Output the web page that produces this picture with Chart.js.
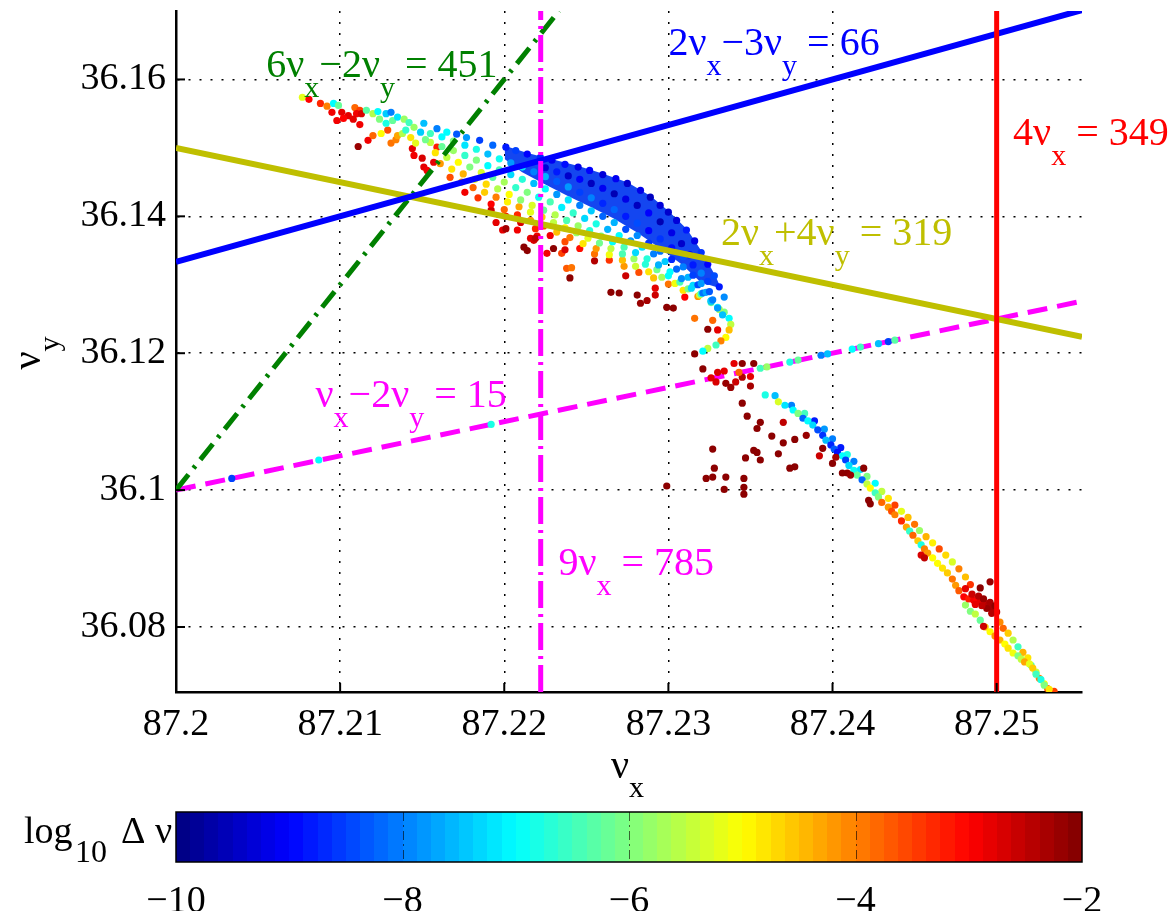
<!DOCTYPE html>
<html lang="en">
<head>
<meta charset="UTF-8">
<title>Frequency map</title>
<script src="https://cdn.jsdelivr.net/npm/chart.js@4"></script>
<style>
  html, body { margin: 0; padding: 0; background: #fff; }
  #wrap { position: relative; width: 1173px; height: 911px; }
  #mainChart { position: absolute; left: 0; top: 0; }
  #barChart { position: absolute; left: 0; top: 800px; }
</style>
</head>
<body>
<div id="wrap">
  <canvas id="mainChart" width="1173" height="911"></canvas>
  <canvas id="barChart" width="1173" height="111"></canvas>
</div>
<script>
// axis ticks
const xTicks = [87.2, 87.21, 87.22, 87.23, 87.24, 87.25];
const xTickLabels = ['87.2', '87.21', '87.22', '87.23', '87.24', '87.25'];
const yTicks = [36.08, 36.1, 36.12, 36.14, 36.16];
const yTickLabels = ['36.08', '36.1', '36.12', '36.14', '36.16'];
const cbTicks = [-10, -8, -6, -4, -2];
const cbTickLabels = ['\u221210', '\u22128', '\u22126', '\u22124', '\u22122'];

// resonance lines (end points)
const res2m3X = [87.2, 87.2552], res2m3Y = [36.13333, 36.17013];   // 2vx-3vy=66
const res2p4X = [87.2, 87.2552], res2p4Y = [36.15, 36.1224];       // 2vx+4vy=319
const res1m2X = [87.2, 87.2552], res1m2Y = [36.1, 36.1276];        // vx-2vy=15
const res6m2X = [87.2, 87.22333], res6m2Y = [36.1, 36.17];         // 6vx-2vy=451
const res9X = [87.22222, 87.22222], res9Y = [36.0705, 36.17];      // 9vx=785
const res4X = [87.25, 87.25], res4Y = [36.0705, 36.17];            // 4vx=349

// [nux, nuy, log10 dnu]
const fanTail = [
  [87.2077,36.1574,-5.2],[87.2081,36.1571,-3.0],[87.2088,36.1565,-3.3],[87.2092,36.1561,-4.0],
  [87.2096,36.1565,-7.0],[87.2099,36.1562,-6.2],[87.2095,36.1552,-2.9],[87.2101,36.1552,-2.8],
  [87.2109,36.1559,-3.8],[87.2112,36.1555,-3.5],[87.2105,36.1547,-2.8],[87.2110,36.1550,-2.9],
  [87.2113,36.1550,-2.7],[87.2098,36.1540,-2.9],[87.2102,36.1543,-3.0],[87.2108,36.1542,-2.8],
  [87.2112,36.1534,-2.9],[87.2111,36.1502,-2.2],[87.2117,36.1511,-2.9],[87.2120,36.1518,-3.8],
  [87.2125,36.1521,-5.0],[87.2129,36.1526,-3.6],[87.2131,36.1507,-3.9],[87.2134,36.1512,-4.0],
  [87.2135,36.1518,-4.3],[87.2138,36.1521,-5.6],[87.2116,36.1555,-6.3],[87.2120,36.1550,-5.6],
  [87.2123,36.1553,-7.0],[87.2128,36.1550,-7.4],[87.2131,36.1552,-8.0],[87.2124,36.1542,-6.0],
  [87.2128,36.1536,-6.8],[87.2132,36.1540,-6.2],[87.2135,36.1545,-7.2],[87.2139,36.1542,-5.8],
  [87.2142,36.1537,-6.5],[87.2145,36.1530,-5.8],[87.2140,36.1526,-6.6],[87.2143,36.1515,-4.8],
  [87.2146,36.1507,-5.2],[87.2149,36.1523,-7.4],[87.2152,36.1512,-6.1]
];
const fanEdge = [
  [87.2151,36.1536,-7.5],[87.2159,36.1528,-8.0],[87.2165,36.1523,-7.0],[87.2171,36.1520,-8.3],
  [87.2177,36.1515,-7.8],[87.2185,36.1511,-8.5],[87.2193,36.1504,-8.2],[87.2201,36.1501,-8.8],
  [87.2207,36.1496,-8.5],[87.2214,36.1491,-9.0],[87.2222,36.1486,-8.7],[87.2229,36.1482,-9.1],
  [87.2237,36.1476,-8.9],[87.2245,36.1472,-9.2],[87.2252,36.1467,-9.0],[87.2260,36.1461,-9.3],
  [87.2268,36.1455,-9.1],[87.2275,36.1448,-9.4],[87.2283,36.1438,-9.2],[87.2289,36.1428,-9.5],
  [87.2295,36.1416,-9.3],[87.2300,36.1406,-9.4]
];
const fanInner = [
  [87.2225,36.1471,-9.3],[87.2232,36.1465,-8.8],[87.2239,36.1459,-9.4],[87.2246,36.1454,-9.0],
  [87.2253,36.1448,-9.5],[87.2260,36.1441,-9.1],[87.2267,36.1433,-9.6],[87.2274,36.1425,-9.2],
  [87.2281,36.1416,-9.5],[87.2288,36.1405,-9.0],[87.2295,36.1392,-9.6],[87.2302,36.1376,-9.2],
  [87.2308,36.1360,-9.4],[87.2313,36.1344,-9.0],
  [87.2305,36.1394,-9.3],[87.2311,36.1380,-8.8],[87.2316,36.1364,-9.2],[87.2320,36.1347,-8.6],
  [87.2324,36.1330,-9.0],[87.2328,36.1313,-8.4],[87.2331,36.1297,-8.8],[87.2334,36.1282,-7.9]
];
const rowA = [
  [87.2155,36.1521,-6.5],[87.2162,36.1516,-7.0],[87.2169,36.1510,-6.0],[87.2176,36.1504,-7.2],
  [87.2183,36.1498,-6.8],[87.2190,36.1491,-7.5],[87.2197,36.1484,-6.9],[87.2204,36.1478,-7.8],
  [87.2211,36.1472,-7.2],[87.2218,36.1465,-8.0],[87.2225,36.1458,-7.6],[87.2232,36.1451,-8.3],
  [87.2239,36.1443,-7.8],[87.2246,36.1435,-8.5],[87.2253,36.1427,-8.0],[87.2260,36.1419,-8.7],
  [87.2267,36.1410,-8.2],[87.2274,36.1400,-8.8],[87.2281,36.1390,-8.4],[87.2288,36.1379,-9.0],
  [87.2295,36.1367,-8.6],[87.2302,36.1354,-8.9],[87.2309,36.1341,-8.3],[87.2315,36.1329,-8.8],
  [87.2320,36.1317,-8.0],[87.2324,36.1305,-8.5]
];
const rowB = [
  [87.2155,36.1508,-5.5],[87.2162,36.1502,-6.2],[87.2169,36.1496,-5.8],[87.2176,36.1489,-6.6],
  [87.2183,36.1482,-6.0],[87.2190,36.1474,-7.0],[87.2197,36.1468,-6.4],[87.2204,36.1461,-7.3],
  [87.2211,36.1454,-6.7],[87.2218,36.1448,-7.5],[87.2225,36.1440,-7.0],[87.2232,36.1432,-7.8],
  [87.2239,36.1424,-7.2],[87.2246,36.1416,-8.0],[87.2253,36.1408,-7.4],[87.2260,36.1400,-8.2],
  [87.2267,36.1391,-7.6],[87.2274,36.1381,-8.4],[87.2281,36.1372,-7.9],[87.2288,36.1361,-8.6],
  [87.2295,36.1349,-8.1],[87.2302,36.1337,-8.7],[87.2309,36.1326,-8.0],[87.2315,36.1314,-8.5],
  [87.2320,36.1302,-7.8],[87.2325,36.1290,-8.3]
];
const rowC = [
  [87.2158,36.1493,-4.8],[87.2165,36.1486,-5.5],[87.2172,36.1479,-5.0],[87.2179,36.1472,-6.0],
  [87.2186,36.1464,-5.3],[87.2193,36.1457,-6.3],[87.2200,36.1450,-5.7],[87.2207,36.1442,-6.6],
  [87.2214,36.1435,-6.0],[87.2221,36.1428,-6.9],[87.2228,36.1421,-6.4],[87.2235,36.1413,-7.1],
  [87.2242,36.1405,-6.6],[87.2249,36.1397,-7.3],[87.2256,36.1389,-6.8],[87.2263,36.1381,-7.6],
  [87.2270,36.1372,-7.0],[87.2277,36.1364,-7.8],[87.2284,36.1355,-7.2],[87.2291,36.1345,-8.0],
  [87.2298,36.1334,-7.4],[87.2305,36.1323,-8.2],[87.2312,36.1311,-7.6],[87.2318,36.1300,-8.4],
  [87.2323,36.1289,-7.7],[87.2327,36.1278,-8.0]
];
const rowD = [
  [87.2161,36.1477,-4.2],[87.2168,36.1469,-4.8],[87.2175,36.1462,-4.4],[87.2182,36.1454,-5.2],
  [87.2189,36.1447,-4.7],[87.2196,36.1440,-5.6],[87.2203,36.1432,-5.0],[87.2210,36.1424,-5.9],
  [87.2217,36.1416,-5.3],[87.2224,36.1409,-6.2],[87.2231,36.1402,-5.6],[87.2238,36.1394,-6.4],
  [87.2245,36.1386,-5.8],[87.2252,36.1379,-6.7],[87.2259,36.1371,-6.1],[87.2266,36.1363,-7.0],
  [87.2273,36.1355,-6.4],[87.2280,36.1347,-7.3],[87.2287,36.1338,-6.7],[87.2294,36.1329,-7.6],
  [87.2301,36.1319,-7.0],[87.2308,36.1309,-7.9],[87.2315,36.1299,-7.3],[87.2321,36.1288,-8.1],
  [87.2326,36.1277,-7.4],[87.2330,36.1266,-7.8]
];
const rowE = [
  [87.2167,36.1457,-3.6],[87.2174,36.1450,-4.2],[87.2181,36.1442,-3.8],[87.2188,36.1435,-4.6],
  [87.2195,36.1428,-4.0],[87.2202,36.1421,-4.9],[87.2209,36.1414,-4.3],[87.2216,36.1406,-5.2],
  [87.2223,36.1399,-4.6],[87.2230,36.1391,-5.5],[87.2237,36.1383,-4.9],[87.2244,36.1376,-5.8],
  [87.2251,36.1368,-5.2],[87.2258,36.1361,-6.1],[87.2265,36.1353,-5.5],[87.2272,36.1345,-6.4],
  [87.2279,36.1338,-5.8],[87.2286,36.1330,-6.7],[87.2293,36.1322,-6.1],[87.2300,36.1313,-7.0],
  [87.2307,36.1304,-6.4],[87.2314,36.1295,-7.3],[87.2320,36.1287,-6.7],[87.2326,36.1276,-7.6],
  [87.2330,36.1267,-7.0],[87.2333,36.1256,-7.5]
];
const rowF = [
  [87.2176,36.1435,-2.9],[87.2184,36.1427,-3.4],[87.2192,36.1418,-3.0],[87.2200,36.1410,-3.8],
  [87.2208,36.1402,-3.3],[87.2216,36.1394,-4.2],[87.2224,36.1386,-3.6],[87.2232,36.1377,-4.5],
  [87.2240,36.1369,-3.9],[87.2248,36.1360,-4.8],[87.2256,36.1353,-4.2],[87.2264,36.1344,-5.1],
  [87.2272,36.1336,-4.5],[87.2280,36.1327,-5.4],[87.2288,36.1319,-4.8],[87.2296,36.1311,-5.7],
  [87.2304,36.1302,-5.1],[87.2312,36.1294,-6.0],[87.2319,36.1285,-5.4],[87.2326,36.1274,-6.3],
  [87.2331,36.1264,-5.7]
];
const rowG = [
  [87.2192,36.1409,-2.6],[87.2201,36.1400,-3.0],[87.2210,36.1391,-2.7],[87.2219,36.1382,-3.3],
  [87.2228,36.1372,-2.9],[87.2237,36.1363,-3.6],[87.2246,36.1353,-3.1],[87.2255,36.1345,-3.9],
  [87.2264,36.1336,-3.4],[87.2273,36.1327,-4.2],[87.2282,36.1318,-3.6],[87.2291,36.1310,-4.5],
  [87.2300,36.1301,-3.9],[87.2309,36.1292,-4.8],[87.2318,36.1283,-4.2]
];
const rowH = [
  [87.2201,36.1382,-2.3],[87.2219,36.1368,-2.5],[87.2237,36.1351,-2.7],[87.2255,36.1335,-2.4],
  [87.2274,36.1313,-2.6],[87.2292,36.1295,-2.8],[87.2310,36.1282,-3.0]
];
const fanChaos = [
  [87.2144,36.1499,-2.8],[87.2145,36.1489,-2.9],[87.2150,36.1485,-2.7],[87.2151,36.1472,-2.8],
  [87.2153,36.1467,-2.9],[87.2157,36.1479,-2.8],[87.2159,36.1501,-3.2],
  [87.2195,36.1391,-2.8],[87.2199,36.1380,-2.8],[87.2208,36.1380,-2.9],[87.2212,36.1355,-2.1],
  [87.2214,36.1350,-2.1],[87.2216,36.1368,-2.8],[87.2218,36.1365,-2.7],[87.2220,36.1371,-2.9],
  [87.2226,36.1346,-2.9],[87.2230,36.1353,-2.1],[87.2240,36.1310,-2.1],[87.2235,36.1346,-3.5],
  [87.2238,36.1324,-3.7],[87.2241,36.1325,-3.9],
  [87.2265,36.1289,-2.1],[87.2270,36.1288,-2.1],[87.2281,36.1285,-2.1],[87.2283,36.1273,-2.2],
  [87.2287,36.1277,-2.3],[87.2292,36.1285,-2.6],[87.2299,36.1267,-2.1],[87.2303,36.1266,-2.1],
  [87.2324,36.1235,-2.1],[87.2327,36.1248,-3.8],[87.2330,36.1234,-2.8],[87.2316,36.1251,-3.9]
];
const hook = [
  [87.2334,36.1260,-6.0],[87.2337,36.1251,-7.0],[87.2338,36.1242,-5.5],[87.2337,36.1234,-4.5],
  [87.2335,36.1223,-5.0],[87.2332,36.1218,-4.0],[87.2329,36.1212,-6.5],[87.2324,36.1207,-5.5],
  [87.2321,36.1203,-7.0]
];
const trapped = [
  [87.2034,36.1017,-8.5],[87.2087,36.1044,-7.0],[87.2192,36.1096,-6.8],
  [87.2343,36.1172,-3.8],[87.2356,36.1178,-6.5],[87.2360,36.1180,-5.8],[87.2374,36.1187,-6.8],
  [87.2379,36.1190,-6.2],[87.2393,36.1197,-8.0],[87.2397,36.1199,-7.5],[87.2412,36.1206,-7.0],
  [87.2417,36.1209,-6.5],[87.2428,36.1214,-7.5],[87.2434,36.1217,-8.5],[87.2438,36.1219,-6.3]
];
const chaos = [
  [87.2316,36.1199,-2.1],[87.2321,36.1177,-2.1],[87.2330,36.1172,-2.7],[87.2334,36.1174,-2.8],
  [87.2340,36.1185,-2.8],[87.2345,36.1185,-2.1],[87.2352,36.1185,-2.1],[87.2326,36.1164,-2.8],
  [87.2329,36.1158,-2.7],[87.2335,36.1156,-2.2],[87.2338,36.1150,-2.2],[87.2341,36.1158,-2.6],
  [87.2345,36.1165,-2.4],[87.2350,36.1166,-2.8],[87.2350,36.1152,-2.3],[87.2345,36.1127,-2.1],
  [87.2348,36.1108,-2.1],[87.2356,36.1099,-2.1],[87.2354,36.1090,-2.1],[87.2327,36.1060,-2.1],
  [87.2352,36.1058,-2.1],[87.2354,36.1055,-2.1],[87.2356,36.1044,-2.1],[87.2347,36.1047,-2.1],
  [87.2367,36.1053,-2.1],[87.2363,36.1079,-2.1],[87.2328,36.1032,-2.1],[87.2323,36.1017,-2.1],
  [87.2327,36.1019,-2.1],[87.2335,36.1019,-2.1],[87.2334,36.1001,-2.1],[87.2346,36.1017,-2.1],
  [87.2346,36.1004,-2.1],[87.2346,36.0994,-2.1],[87.2299,36.1006,-2.1],
  [87.2370,36.1099,-2.5],[87.2370,36.1069,-2.1],[87.2377,36.1074,-2.1],[87.2384,36.1080,-2.2],
  [87.2374,36.1032,-2.1],[87.2377,36.1034,-2.1],[87.2392,36.1050,-2.6],[87.2394,36.1061,-2.1],
  [87.2400,36.1039,-2.1],[87.2406,36.1025,-2.1],[87.2409,36.1025,-2.1],[87.2411,36.1022,-2.2],
  [87.2419,36.1032,-2.1],[87.2422,36.0985,-2.1],[87.2423,36.0980,-2.1],[87.2402,36.1048,-2.3],
  [87.2454,36.0905,-2.7],[87.2456,36.0901,-2.5],[87.2481,36.0856,-2.8],[87.2490,36.0857,-2.1],
  [87.2496,36.0866,-2.2],[87.2492,36.0801,-2.6],
  [87.2485,36.0848,-2.6],[87.2489,36.0845,-2.4],[87.2492,36.0841,-2.2],[87.2496,36.0836,-2.3],
  [87.2499,36.0831,-2.1],[87.2494,36.0827,-2.2],[87.2491,36.0831,-2.5],[87.2497,36.0820,-2.4],
  [87.2487,36.0833,-2.8]
];
const tailMain = [
  [87.2359,36.1139,-6.8],[87.2367,36.1129,-5.3],[87.2371,36.1124,-7.2],[87.2376,36.1117,-7.0],
  [87.2379,36.1112,-6.0],[87.2382,36.1105,-8.2],[87.2385,36.1101,-7.0],[87.2388,36.1095,-7.3],
  [87.2391,36.1088,-8.4],[87.2394,36.1080,-8.6],[87.2396,36.1073,-7.5],[87.2399,36.1066,-8.7],
  [87.2401,36.1060,-8.3],[87.2403,36.1055,-8.9],[87.2406,36.1050,-7.0],[87.2408,36.1044,-8.5],
  [87.2410,36.1036,-7.3],[87.2413,36.1029,-6.9],[87.2415,36.1022,-6.2],[87.2418,36.1015,-8.2],
  [87.2421,36.1009,-5.5],[87.2423,36.1003,-5.0],[87.2426,36.0996,-6.5],[87.2428,36.0990,-6.0],
  [87.2430,36.0982,-3.8],[87.2434,36.0975,-4.2],[87.2436,36.0969,-3.6],[87.2438,36.0964,-4.0],
  [87.2442,36.0955,-3.3],[87.2445,36.0946,-4.3],[87.2447,36.0940,-6.6],[87.2449,36.0934,-3.8],
  [87.2452,36.0926,-4.6],[87.2454,36.0920,-6.8],[87.2456,36.0914,-4.0],[87.2458,36.0908,-4.2],
  [87.2461,36.0901,-5.0],[87.2464,36.0893,-5.0],[87.2467,36.0886,-4.8],[87.2470,36.0879,-4.6],
  [87.2473,36.0870,-3.9],[87.2475,36.0861,-4.2],[87.2477,36.0853,-3.7],[87.2480,36.0844,-3.0],
  [87.2483,36.0841,-3.2],[87.2486,36.0839,-2.9],[87.2488,36.0838,-3.0],[87.2490,36.0837,-2.8],
  [87.2493,36.0834,-2.6],[87.2495,36.0832,-2.4],[87.2496,36.0828,-2.3],[87.2498,36.0825,-2.3],
  [87.2500,36.0822,-2.5]
];
const tailSide = [
  [87.2365,36.1138,-7.5],[87.2375,36.1124,-8.0],[87.2383,36.1112,-6.5],[87.2389,36.1101,-8.8],
  [87.2395,36.1089,-7.8],[87.2400,36.1075,-8.0],[87.2405,36.1062,-8.8],[87.2409,36.1052,-6.8],
  [87.2413,36.1042,-8.0],[87.2417,36.1030,-7.2],[87.2421,36.1020,-6.0],[87.2426,36.1010,-7.0],
  [87.2430,36.0998,-5.5],[87.2434,36.0988,-4.8],[87.2438,36.0978,-3.5],[87.2442,36.0969,-5.2],
  [87.2446,36.0960,-4.5],[87.2450,36.0950,-3.9],[87.2453,36.0941,-5.8],[87.2457,36.0932,-4.4],
  [87.2461,36.0923,-4.9],[87.2465,36.0914,-3.6],[87.2469,36.0905,-4.7],[87.2473,36.0895,-5.3],
  [87.2477,36.0885,-4.0],[87.2481,36.0873,-4.5],[87.2484,36.0862,-3.4]
];
const tailLowA = [
  [87.2481,36.0832,-5.8],[87.2484,36.0823,-6.0],[87.2487,36.0819,-5.5],[87.2490,36.0810,-6.2],
  [87.2493,36.0800,-4.5],[87.2496,36.0793,-5.0],[87.2499,36.0787,-4.2],[87.2502,36.0781,-4.4],
  [87.2505,36.0775,-5.0],[87.2507,36.0769,-4.8],[87.2510,36.0762,-5.1],[87.2513,36.0758,-6.0],
  [87.2515,36.0753,-5.5],[87.2517,36.0749,-4.3],[87.2520,36.0746,-5.2],[87.2522,36.0740,-4.6],
  [87.2524,36.0731,-6.5],[87.2527,36.0723,-6.8],[87.2529,36.0715,-6.0],[87.2532,36.0709,-4.8]
];
const tailLowB = [
  [87.2502,36.0807,-4.1],[87.2504,36.0798,-3.8],[87.2507,36.0791,-4.6],[87.2510,36.0781,-5.6],
  [87.2513,36.0771,-6.5],[87.2516,36.0763,-4.4],[87.2519,36.0755,-4.8],[87.2521,36.0744,-6.3],
  [87.2524,36.0734,-5.4],[87.2526,36.0725,-4.0],[87.2529,36.0717,-5.0],[87.2531,36.0710,-3.6],
  [87.2535,36.0706,-3.5]
];
// outline of the densely packed (stable) part of the map
const denseX = [87.2201, 87.2214, 87.2229, 87.2245, 87.2260, 87.2275, 87.2289, 87.2300, 87.2311, 87.2320, 87.2328, 87.2331,
                87.2320, 87.2309, 87.2295, 87.2281, 87.2267, 87.2253, 87.2239, 87.2225, 87.2211, 87.2201, 87.2201];
const denseY = [36.1501, 36.1491, 36.1482, 36.1472, 36.1461, 36.1448, 36.1428, 36.1406, 36.1380, 36.1347, 36.1313, 36.1297,
                36.1305, 36.1330, 36.1355, 36.1378, 36.1398, 36.1415, 36.1431, 36.1448, 36.1466, 36.1484, 36.1501];

// equation labels
const eqLabels = [
  { x: 87.2055, y: 36.1603, color: 'rgb(0,128,0)', parts: [['6\u03bd', 0], ['x', 1], ['\u22122\u03bd', 0], ['y', 1], [' = 451', 0]] },
  { x: 87.2300, y: 36.1635, color: 'rgb(0,0,255)', parts: [['2\u03bd', 0], ['x', 1], ['\u22123\u03bd', 0], ['y', 1], [' = 66', 0]] },
  { x: 87.2510, y: 36.1504, color: 'rgb(255,0,0)', parts: [['4\u03bd', 0], ['x', 1], [' = 349', 0]] },
  { x: 87.2332, y: 36.1358, color: 'rgb(191,191,0)', parts: [['2\u03bd', 0], ['x', 1], ['+4\u03bd', 0], ['y', 1], [' = 319', 0]] },
  { x: 87.2085, y: 36.1121, color: 'rgb(255,0,255)', parts: [['\u03bd', 0], ['x', 1], ['\u22122\u03bd', 0], ['y', 1], [' = 15', 0]] },
  { x: 87.2233, y: 36.0876, color: 'rgb(255,0,255)', parts: [['9\u03bd', 0], ['x', 1], [' = 785', 0]] }
];

const SERIF = '"Liberation Serif", "DejaVu Serif", serif';
Chart.defaults.font.family = SERIF;

function jet(t) {
  t = Math.min(1, Math.max(0, t));
  const f = v => Math.round(255 * Math.min(1, Math.max(0, v)));
  const r = f(Math.min(4 * t - 1.5, -4 * t + 4.5));
  const g = f(Math.min(4 * t - 0.5, -4 * t + 3.5));
  const b = f(Math.min(4 * t + 0.5, -4 * t + 2.5));
  return `rgb(${r},${g},${b})`;
}

function scatterSet(arr) {
  return {
    data: arr.map(p => ({ x: p[0], y: p[1] })),
    pointBackgroundColor: arr.map(p => jet((p[2] + 10) / 8)),
    pointBorderWidth: 0,
    pointRadius: 3.6,
    showLine: false,
    order: 5
  };
}

function lineSet(xs, ys, color, width, dash, order) {
  return {
    data: xs.map((x, i) => ({ x: x, y: ys[i] })),
    showLine: true,
    borderColor: color,
    borderWidth: width,
    borderDash: dash,
    pointRadius: 0,
    fill: false,
    order: order
  };
}

function drawEq(ctx, x, y, parts, color, size, subSize, subDrop) {
  ctx.fillStyle = color;
  ctx.textAlign = 'left';
  ctx.textBaseline = 'alphabetic';
  let cx = x;
  parts.forEach(([s, sub]) => {
    ctx.font = (sub ? subSize : size) + 'px ' + SERIF;
    ctx.fillText(s, cx, sub ? y + subDrop : y);
    cx += ctx.measureText(s).width;
  });
}

// keep the plot box where the figure has it
function fixBox(s, w, h) {
  if (w !== null) s.width = w;
  if (h !== null) s.height = h;
  s.paddingTop = 0; s.paddingBottom = 0; s.paddingLeft = 0; s.paddingRight = 0;
}

const decorations = {
  id: 'decorations',
  afterDraw(chart) {
    const { ctx, chartArea: a, scales: { x, y } } = chart;
    ctx.save();
    // inward tick marks
    ctx.strokeStyle = '#000';
    ctx.lineWidth = 2;
    xTicks.forEach(v => {
      const px = x.getPixelForValue(v);
      ctx.beginPath(); ctx.moveTo(px, a.bottom); ctx.lineTo(px, a.bottom - 9); ctx.stroke();
    });
    yTicks.forEach(v => {
      const py = y.getPixelForValue(v);
      ctx.beginPath(); ctx.moveTo(a.left, py); ctx.lineTo(a.left + 9, py); ctx.stroke();
    });
    // resonance labels
    eqLabels.forEach(l => {
      drawEq(ctx, x.getPixelForValue(l.x), y.getPixelForValue(l.y), l.parts, l.color, 40, 30, 20);
    });
    // axis titles
    const mid = (a.left + a.right) / 2;
    drawEq(ctx, mid - 18, a.bottom + 86, [['\u03bd', 0], ['x', 1]], '#000', 40, 30, 19);
    ctx.translate(40, (a.top + a.bottom) / 2 + 18);
    ctx.rotate(-Math.PI / 2);
    drawEq(ctx, 0, 0, [['\u03bd', 0], ['y', 1]], '#000', 40, 30, 19);
    ctx.restore();
  }
};

new Chart(document.getElementById('mainChart'), {
  type: 'scatter',
  data: {
    datasets: [
      lineSet(res4X, res4Y, 'rgb(255,0,0)', 5, [], 1),
      lineSet(res9X, res9Y, 'rgb(255,0,255)', 5, [27, 6, 3, 6], 1),
      lineSet(res2m3X, res2m3Y, 'rgb(0,0,255)', 6, [], 1),
      lineSet(res2p4X, res2p4Y, 'rgb(191,191,0)', 6, [], 1),
      lineSet(res6m2X, res6m2Y, 'rgb(0,128,0)', 5, [20, 8, 3, 8], 1),
      scatterSet(fanTail), scatterSet(fanEdge), scatterSet(fanInner),
      scatterSet(rowA), scatterSet(rowB), scatterSet(rowC), scatterSet(rowD),
      scatterSet(rowE), scatterSet(rowF), scatterSet(rowG), scatterSet(rowH),
      scatterSet(fanChaos), scatterSet(hook), scatterSet(trapped), scatterSet(chaos),
      scatterSet(tailMain), scatterSet(tailSide), scatterSet(tailLowA), scatterSet(tailLowB),
      {
        data: denseX.map((v, i) => ({ x: v, y: denseY[i] })),
        showLine: true,
        fill: 'shape',
        backgroundColor: 'rgb(20,70,240)',
        borderColor: 'rgb(20,70,240)',
        borderWidth: 2,
        pointRadius: 0,
        order: 6
      },
      lineSet(res1m2X, res1m2Y, 'rgb(255,0,255)', 5, [20, 10], 7)
    ]
  },
  options: {
    responsive: false,
    animation: false,
    events: [],
    layout: { padding: { top: 11, right: 91, left: 0, bottom: 0 } },
    plugins: { legend: { display: false }, tooltip: { enabled: false } },
    scales: {
      x: {
        type: 'linear',
        min: 87.2,
        max: 87.2552,
        afterBuildTicks: s => { s.ticks = xTicks.map(v => ({ value: v })); },
        afterFit: s => fixBox(s, null, 911 - 692),
        grid: { color: '#000', lineWidth: 1.5, drawTicks: false },
        border: { color: '#000', width: 2.5, dash: [2, 9] },
        ticks: {
          color: '#000', font: { size: 38 }, padding: 10, autoSkip: false, maxRotation: 0,
          callback: (v, i) => xTickLabels[i]
        }
      },
      y: {
        type: 'linear',
        min: 36.0705,
        max: 36.17,
        afterBuildTicks: s => { s.ticks = yTicks.map(v => ({ value: v })); },
        afterFit: s => fixBox(s, 176, null),
        grid: { color: '#000', lineWidth: 1.5, drawTicks: false },
        border: { color: '#000', width: 2.5, dash: [2, 9] },
        ticks: {
          color: '#000', font: { size: 38 }, padding: 10, autoSkip: false,
          callback: (v, i) => yTickLabels[i]
        }
      }
    }
  },
  plugins: [decorations]
});

// colour bar
const colorbar = {
  id: 'colorbar',
  afterDraw(chart) {
    const { ctx, chartArea: a, scales: { x } } = chart;
    ctx.save();
    for (let i = 0; i < 64; i++) {
      const x0 = Math.round(x.getPixelForValue(-10 + i * 0.125));
      const x1 = Math.round(x.getPixelForValue(-10 + (i + 1) * 0.125));
      ctx.fillStyle = jet((i + 0.5) / 64);
      ctx.fillRect(x0, a.top, x1 - x0, a.bottom - a.top);
    }
    ctx.strokeStyle = 'rgba(0,0,0,0.6)';
    ctx.lineWidth = 1;
    ctx.setLineDash([9, 4, 2, 4]);
    [-8, -6, -4].forEach(v => {
      const px = Math.round(x.getPixelForValue(v)) + 0.5;
      ctx.beginPath(); ctx.moveTo(px, a.top); ctx.lineTo(px, a.bottom); ctx.stroke();
    });
    ctx.setLineDash([]);
    ctx.strokeStyle = '#000';
    ctx.lineWidth = 1.5;
    ctx.strokeRect(a.left, a.top, a.right - a.left, a.bottom - a.top);
    // label
    ctx.fillStyle = '#000';
    ctx.textBaseline = 'alphabetic';
    ctx.textAlign = 'left';
    ctx.font = '38px ' + SERIF;
    ctx.fillText('log', 24, 43);
    ctx.font = '32px ' + SERIF;
    ctx.fillText('10', 75, 62);
    ctx.font = '38px ' + SERIF;
    ctx.fillText('\u0394 \u03bd', 121, 43);
    ctx.restore();
  }
};

new Chart(document.getElementById('barChart'), {
  type: 'scatter',
  data: { datasets: [] },
  options: {
    responsive: false,
    animation: false,
    events: [],
    layout: { padding: { top: 12, right: 91, left: 176, bottom: 0 } },
    plugins: { legend: { display: false }, tooltip: { enabled: false } },
    scales: {
      x: {
        type: 'linear',
        min: -10,
        max: -2,
        afterBuildTicks: s => { s.ticks = cbTicks.map(v => ({ value: v })); },
        afterFit: s => fixBox(s, null, 111 - 62),
        grid: { display: false },
        border: { display: false },
        ticks: {
          color: '#000', font: { size: 38 }, padding: 9, autoSkip: false, maxRotation: 0,
          callback: (v, i) => cbTickLabels[i]
        }
      },
      y: { display: false, min: 0, max: 1, afterFit: s => fixBox(s, 0, null) }
    }
  },
  plugins: [colorbar]
});
</script>
</body>
</html>
